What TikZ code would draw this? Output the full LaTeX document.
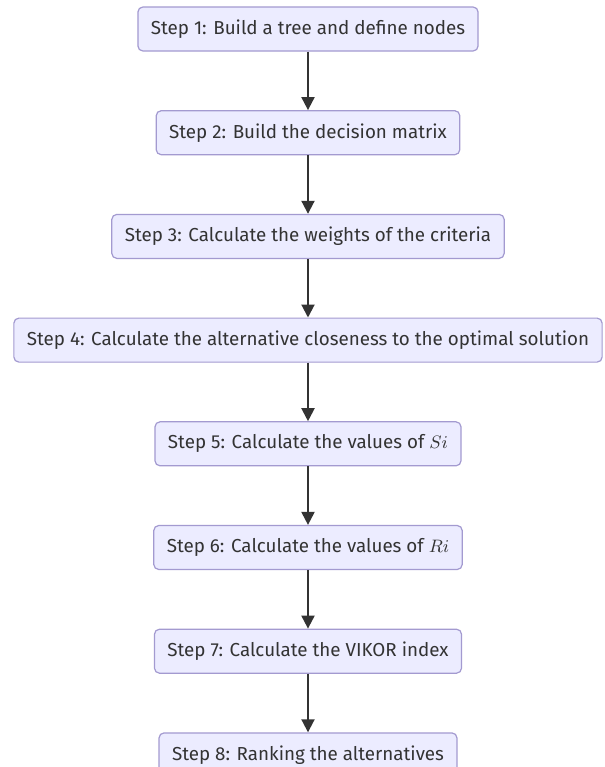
\documentclass[tikz,border=0pt]{standalone}
\usepackage{fontspec}
\setmainfont{Fira Sans}
\usetikzlibrary{positioning,arrows.meta}
\definecolor{boxfill}{HTML}{ECECFF}
\definecolor{boxline}{HTML}{A39AD0}
\definecolor{linkcol}{HTML}{333333}

\begin{document}
\begin{tikzpicture}[node distance=29.25pt,
  step node/.style={rectangle,rounded corners=2.5pt,draw=boxline,line width=0.6pt,fill=boxfill,text=linkcol,minimum height=22pt,inner xsep=6.5pt,font=\fontsize{9.4}{11}\selectfont},
  link/.style={draw=linkcol,line width=1pt,-{Triangle[length=6.5pt,width=6.5pt]}}]
  \useasboundingbox (0,0) rectangle (302.5pt,-383.5pt);
  \node[step node] (s1) at (154pt,-14.5pt) {Step 1: Build a tree and define nodes};
  \node[step node] (s2) [below=of s1] {Step 2: Build the decision matrix};
  \node[step node] (s3) [below=of s2] {Step 3: Calculate the weights of the criteria};
  \node[step node] (s4) [below=of s3] {Step 4: Calculate the alternative closeness to the optimal solution};
  \node[step node] (s5) [below=of s4] {Step 5: Calculate the values of $Si$};
  \node[step node] (s6) [below=of s5] {Step 6: Calculate the values of $Ri$};
  \node[step node] (s7) [below=of s6] {Step 7: Calculate the VIKOR index};
  \node[step node] (s8) [below=of s7] {Step 8: Ranking the alternatives};
  \draw[link] (s1) -- (s2);
  \draw[link] (s2) -- (s3);
  \draw[link] (s3) -- (s4);
  \draw[link] (s4) -- (s5);
  \draw[link] (s5) -- (s6);
  \draw[link] (s6) -- (s7);
  \draw[link] (s7) -- (s8);
\end{tikzpicture}
\end{document}
